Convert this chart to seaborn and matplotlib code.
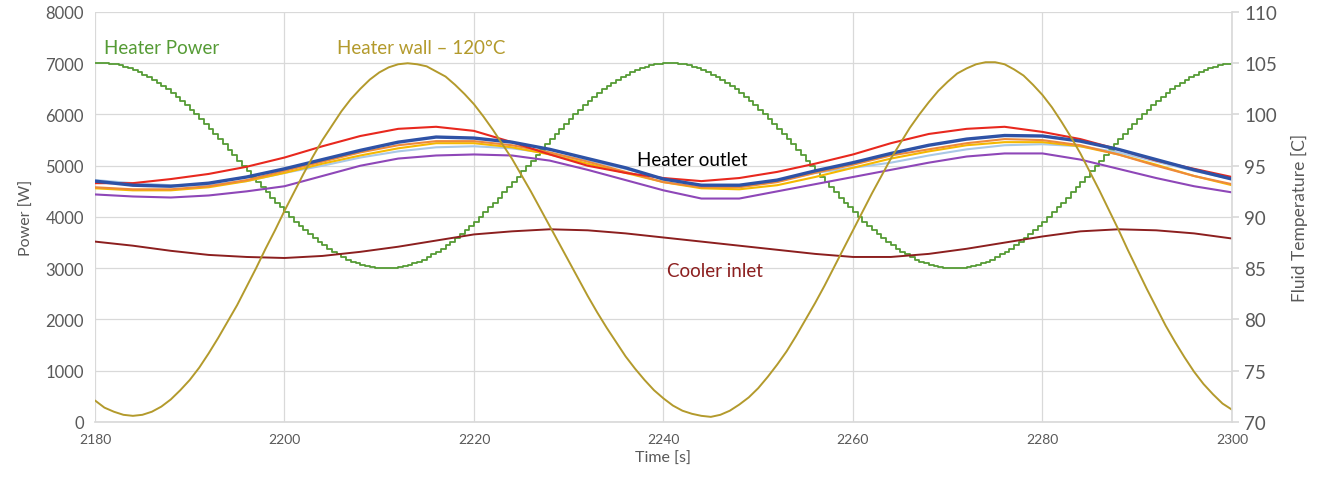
import numpy as np
import pandas as pd
import matplotlib
matplotlib.use("Agg")
import matplotlib.pyplot as plt
import seaborn as sns

# ---- data -----------------------------------------------------------------
# heater power set-point, updated every half second (W)
power_time = [2180 + 0.5 * i for i in range(241)]
heater_power = [
    7000,
    # 2180.5 - 2210.0
    7000, 7000, 6990, 6980, 6960, 6930, 6900, 6870, 6830, 6780,
    6730, 6680, 6620, 6550, 6490, 6410, 6340, 6260, 6180, 6090,
    6000, 5910, 5810, 5720, 5620, 5520, 5420, 5310, 5210, 5100,
    5000, 4900, 4790, 4690, 4580, 4480, 4380, 4280, 4190, 4090,
    4000, 3910, 3820, 3740, 3660, 3590, 3510, 3450, 3380, 3320,
    3270, 3220, 3170, 3130, 3100, 3070, 3040, 3030, 3010, 3000,
    # 2210.5 - 2240.0
    3000, 3000, 3010, 3030, 3040, 3070, 3100, 3130, 3170, 3220,
    3270, 3320, 3380, 3450, 3510, 3590, 3660, 3740, 3820, 3910,
    4000, 4090, 4190, 4280, 4380, 4480, 4580, 4690, 4790, 4900,
    5000, 5100, 5210, 5310, 5420, 5520, 5620, 5720, 5810, 5910,
    6000, 6090, 6180, 6260, 6340, 6410, 6490, 6550, 6620, 6680,
    6730, 6780, 6830, 6870, 6900, 6930, 6960, 6980, 6990, 7000,
    # 2240.5 - 2270.0
    7000, 7000, 6990, 6980, 6960, 6930, 6900, 6870, 6830, 6780,
    6730, 6680, 6620, 6550, 6490, 6410, 6340, 6260, 6180, 6090,
    6000, 5910, 5810, 5720, 5620, 5520, 5420, 5310, 5210, 5100,
    5000, 4900, 4790, 4690, 4580, 4480, 4380, 4280, 4190, 4090,
    4000, 3910, 3820, 3740, 3660, 3590, 3510, 3450, 3380, 3320,
    3270, 3220, 3170, 3130, 3100, 3070, 3040, 3030, 3010, 3000,
    # 2270.5 - 2300.0
    3000, 3000, 3010, 3030, 3040, 3070, 3100, 3130, 3170, 3220,
    3270, 3320, 3380, 3450, 3510, 3590, 3660, 3740, 3820, 3910,
    4000, 4090, 4190, 4280, 4380, 4480, 4580, 4690, 4790, 4900,
    5000, 5100, 5210, 5310, 5420, 5520, 5620, 5720, 5810, 5910,
    6000, 6090, 6180, 6260, 6340, 6410, 6490, 6550, 6620, 6680,
    6730, 6780, 6830, 6870, 6900, 6930, 6960, 6980, 6990, 7000,
]

# heater wall temperature, every second (degC)
wall_time = list(range(2180, 2301))
wall_temp = [
    192.1, 191.4, 191.0, 190.7, 190.6, 190.7, 191.0, 191.5, 192.2, 193.1,
    194.1, 195.3, 196.7, 198.2, 199.8, 201.4, 203.2, 205.0, 206.9, 208.7,
    210.6, 212.4, 214.2, 215.9, 217.5, 218.9, 220.3, 221.5, 222.5, 223.4,
    224.1, 224.6, 224.9, 225.0, 224.9, 224.7, 224.2, 223.7, 222.9, 222.0,
    221.0, 219.8, 218.5, 217.1, 215.7, 214.1, 212.5, 210.8, 209.1, 207.4,
    205.7, 204.0, 202.3, 200.7, 199.2, 197.8, 196.4, 195.2, 194.1, 193.1,
    192.3, 191.6, 191.1, 190.8, 190.6, 190.5, 190.7, 191.1, 191.7, 192.4,
    193.3, 194.4, 195.6, 196.9, 198.4, 200.0, 201.6, 203.3, 205.1, 206.9,
    208.7, 210.5, 212.3, 214.0, 215.7, 217.2, 218.7, 220.0, 221.2, 222.3,
    223.2, 224.0, 224.5, 224.9, 225.1, 225.1, 224.9, 224.4, 223.8, 222.9,
    221.9, 220.7, 219.3, 217.8, 216.2, 214.4, 212.6, 210.7, 208.8, 206.8,
    204.9, 203.0, 201.2, 199.4, 197.8, 196.3, 194.9, 193.7, 192.7, 191.8,
    191.2,
]
wall_offset = 120

# fluid temperatures, every 4 s (degC)
fluid_time = list(range(2180, 2301, 4))
outlet_blue = [93.5, 93.1, 93.0, 93.3, 93.9, 94.7, 95.6, 96.5, 97.3, 97.8,
               97.7, 97.3, 96.6, 95.7, 94.8, 93.7, 93.1, 93.1, 93.6, 94.5,
               95.3, 96.2, 97.0, 97.6, 97.95, 97.9, 97.4, 96.6, 95.6, 94.6,
               93.7]
outlet_red = [93.3, 93.3, 93.7, 94.2, 94.9, 95.8, 96.9, 97.9, 98.6, 98.8,
              98.4, 97.3, 96.1, 95.0, 94.3, 93.8, 93.5, 93.8, 94.4, 95.2,
              96.1, 97.2, 98.1, 98.6, 98.8, 98.3, 97.6, 96.6, 95.5, 94.7,
              93.9]
outlet_orange = [92.9, 92.7, 92.7, 93.0, 93.6, 94.5, 95.4, 96.3, 97.0, 97.4,
                 97.4, 97.0, 96.3, 95.4, 94.4, 93.4, 92.9, 92.9, 93.4, 94.3,
                 95.1, 96.0, 96.6, 97.2, 97.6, 97.5, 97.0, 96.1, 95.0, 94.0,
                 93.2]
outlet_yellow = [92.8, 92.6, 92.6, 92.9, 93.5, 94.3, 95.2, 96.0, 96.7, 97.2,
                 97.2, 96.8, 96.1, 95.2, 94.3, 93.4, 92.8, 92.7, 93.1, 93.9,
                 94.8, 95.7, 96.4, 97.0, 97.3, 97.3, 96.9, 96.1, 95.1, 94.0,
                 93.1]
outlet_lightblue = [93.6, 93.3, 93.1, 93.1, 93.5, 94.3, 95.0, 95.8, 96.4, 96.8,
                    96.9, 96.7, 96.2, 95.5, 94.7, 93.7, 93.1, 93.1, 93.5, 94.3,
                    94.8, 95.3, 96.0, 96.6, 97.0, 97.1, 96.9, 96.3, 95.4, 94.5,
                    93.7]
outlet_purple = [92.2, 92.0, 91.9, 92.1, 92.5, 93.0, 94.0, 95.0, 95.7, 96.0,
                 96.1, 96.0, 95.5, 94.6, 93.6, 92.6, 91.8, 91.8, 92.5, 93.2,
                 93.9, 94.6, 95.3, 95.9, 96.2, 96.2, 95.6, 94.7, 93.8, 93.0,
                 92.4]
cooler_inlet = [87.6, 87.2, 86.7, 86.3, 86.1, 86.0, 86.2, 86.6, 87.1, 87.7,
                88.3, 88.6, 88.8, 88.7, 88.4, 88.0, 87.6, 87.2, 86.8, 86.4,
                86.1, 86.1, 86.4, 86.9, 87.5, 88.1, 88.6, 88.8, 88.7, 88.4,
                87.9]

x_ticks = [2180, 2200, 2220, 2240, 2260, 2280, 2300]

# ---- styling ----------------------------------------------------------------
sns.set_theme(style="white")
plt.rcParams["font.family"] = ["Lato", "DejaVu Sans"]

GREEN = "#559b35"
OLIVE = "#b39a2c"
DARKRED = "#8c1f1f"
TXT = "#595959"
GRID = "#d9d9d9"

fig = plt.figure(figsize=(13.23, 4.81), dpi=100)
ax = fig.add_axes([0.0718, 0.1206, 0.8594, 0.8524])
ax2 = ax.twinx()

power_df = pd.DataFrame({"t": power_time, "P": heater_power})
sns.lineplot(data=power_df, x="t", y="P", ax=ax, color=GREEN, lw=1.3,
             drawstyle="steps-post")

fluid_df = pd.DataFrame({
    "t": fluid_time,
    "cooler": cooler_inlet,
    "purple": outlet_purple,
    "lightblue": outlet_lightblue,
    "yellow": outlet_yellow,
    "orange": outlet_orange,
    "red": outlet_red,
    "blue": outlet_blue,
})
styles = [
    ("cooler", DARKRED, 1.4),
    ("purple", "#8e47b8", 1.5),
    ("lightblue", "#a9c8e6", 1.5),
    ("yellow", "#f5b800", 1.5),
    ("orange", "#ee8a3a", 1.5),
    ("red", "#e8281e", 1.5),
    ("blue", "#2e52a6", 2.4),
]
for col, colour, lw in styles:
    sns.lineplot(data=fluid_df, x="t", y=col, ax=ax2, color=colour, lw=lw)

wall_df = pd.DataFrame({"t": wall_time,
                        "T": np.array(wall_temp) - wall_offset})
sns.lineplot(data=wall_df, x="t", y="T", ax=ax2, color=OLIVE, lw=1.4)

# ---- axes -------------------------------------------------------------------
ax.set_xlim(2180, 2300)
ax.set_ylim(0, 8000)
ax2.set_ylim(70, 110)
ax.set_xticks(x_ticks)
ax.set_yticks(range(0, 8001, 1000))
ax2.set_yticks(range(70, 111, 5))

ax.grid(True, color=GRID, lw=0.9)
ax2.grid(False)
ax.set_axisbelow(True)

for s in ["top", "left", "right"]:
    ax.spines[s].set_visible(False)
ax.spines["bottom"].set_color(GRID)
for s in ["top", "left", "bottom"]:
    ax2.spines[s].set_visible(False)
ax2.spines["right"].set_color(GRID)

ax.tick_params(axis="x", length=0, labelsize=10, labelcolor=TXT, pad=8)
ax.tick_params(axis="y", length=0, labelsize=12, labelcolor=TXT, pad=8)
ax2.tick_params(axis="y", length=5, color=GRID, labelsize=13.5,
                labelcolor=TXT, pad=4)

ax.set_xlabel("Time [s]", fontsize=11.5, color=TXT, labelpad=4)
ax.set_ylabel("Power [W]", fontsize=11.5, color=TXT, labelpad=8)
ax2.set_ylabel("Fluid Temperature [C]", fontsize=12.5, color=TXT, labelpad=10)

# ---- series labels ---------------------------------------------------------
ax.text(2181.0, 7316, "Heater Power", color=GREEN, fontsize=13.5,
        va="center", ha="left")
ax.text(2205.5, 7316, "Heater wall \u2013 120\u00b0C", color=OLIVE,
        fontsize=13.5, va="center", ha="left")
ax.text(2237.2, 5120, "Heater outlet", color="black", fontsize=13.5,
        va="center", ha="left")
ax.text(2240.4, 2950, "Cooler inlet", color=DARKRED, fontsize=13.5,
        va="center", ha="left")

fig.savefig("out.png", dpi=100)
